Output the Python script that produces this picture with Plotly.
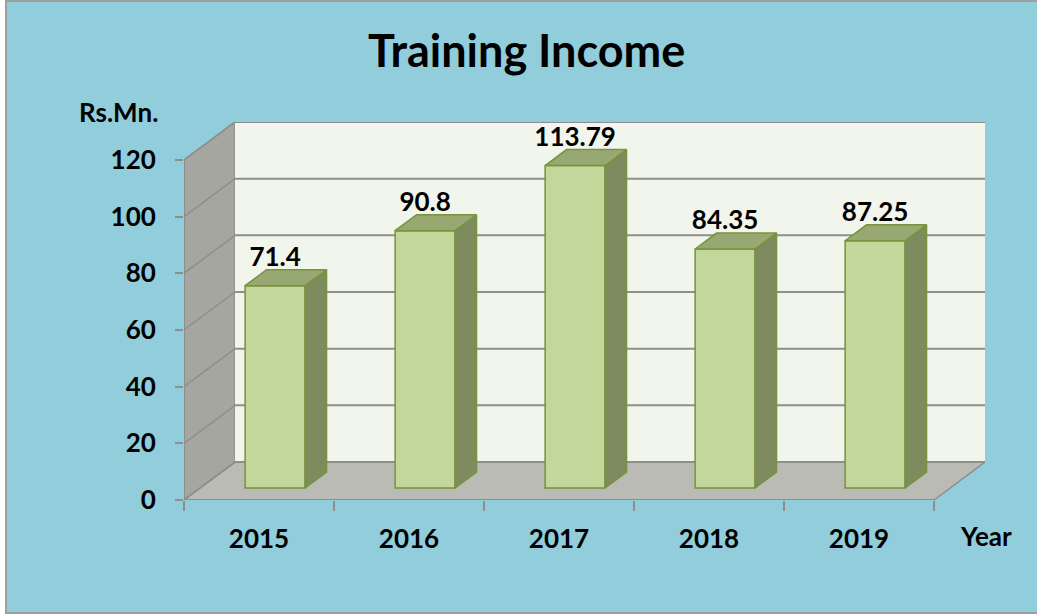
import plotly.graph_objects as go

# ---- data ----
years = ["2015", "2016", "2017", "2018", "2019"]
income = [71.4, 90.8, 113.79, 84.35, 87.25]
labels = ["71.4", "90.8", "113.79", "84.35", "87.25"]
y_ticks = [0, 20, 40, 60, 80, 100, 120]

# ---- style / geometry ----
W, H = 1037, 615
ML, MR, MT, MB = 184, 52, 122, 115
BG = "#92CDDC"
BACK = "#F2F5EC"
SIDEWALL = "#A6A6A1"
FLOOR = "#BBBBB6"
GRID = "#8E8E8E"
BAR_FRONT = "#C4D79B"
BAR_TOP = "#98A872"
BAR_SIDE = "#7E8B5F"
BAR_EDGE = "#77933C"
FONT = "Lato"

YMAX = 120.0
DX, DY = 0.34, 13.4          # depth of the 3D box in data units
F0 = 0.316                   # depth fraction of bar front face
FD = 0.42                    # bar depth fraction
BAR_W = 0.40
n = len(years)
xs = list(range(n))
x_lo, x_hi = -0.5, n - 0.5

bx = [i + F0 * DX for i in xs]
base = F0 * DY
ddx, ddy = FD * DX, FD * DY

fig = go.Figure()

# front faces
fig.add_trace(go.Bar(
    x=bx, y=income, base=base, width=BAR_W,
    marker=dict(color=BAR_FRONT, line=dict(color=BAR_EDGE, width=1.5)),
    hoverinfo="skip", showlegend=False))

# side and top faces
for xc, v in zip(bx, income):
    r = xc + BAR_W / 2
    l = xc - BAR_W / 2
    top = base + v
    fig.add_trace(go.Scatter(
        x=[r, r + ddx, r + ddx, r, r], y=[base, base + ddy, top + ddy, top, base],
        mode="lines", fill="toself", fillcolor=BAR_SIDE,
        line=dict(color=BAR_EDGE, width=1.5), hoverinfo="skip", showlegend=False))
    fig.add_trace(go.Scatter(
        x=[l, l + ddx, r + ddx, r, l], y=[top, top + ddy, top + ddy, top, top],
        mode="lines", fill="toself", fillcolor=BAR_TOP,
        line=dict(color=BAR_EDGE, width=1.5), hoverinfo="skip", showlegend=False))

# data labels
fig.add_trace(go.Scatter(
    x=bx, y=[base + v + ddy - 1.0 for v in income], text=labels,
    mode="text", textposition="top center",
    textfont=dict(family=FONT, size=26, color="black", weight="bold"),
    hoverinfo="skip", showlegend=False, cliponaxis=False))

shapes = []
pw, ph = W - ML - MR, H - MT - MB
def px_x(p):
    return (p - ML) / pw
def px_y(p):
    return (H - MB - p) / ph
# chart border / background
shapes.append(dict(type="rect", xref="paper", yref="paper",
                   x0=px_x(6), x1=px_x(W + 10), y0=px_y(613), y1=px_y(1),
                   fillcolor=BG, line=dict(color="#9E9E9E", width=2), layer="below"))
# side wall
shapes.append(dict(type="path", xref="x", yref="y", layer="below",
                   path=f"M {x_lo} 0 L {x_lo+DX} {DY} L {x_lo+DX} {DY+YMAX} L {x_lo} {YMAX} Z",
                   fillcolor=SIDEWALL, line=dict(color=GRID, width=1.5)))
# floor
shapes.append(dict(type="path", xref="x", yref="y", layer="below",
                   path=f"M {x_lo} 0 L {x_hi} 0 L {x_hi+DX} {DY} L {x_lo+DX} {DY} Z",
                   fillcolor=FLOOR, line=dict(color=GRID, width=1.5)))
# back wall
shapes.append(dict(type="rect", xref="x", yref="y", layer="below",
                   x0=x_lo + DX, x1=x_hi + DX, y0=DY, y1=DY + YMAX,
                   fillcolor=BACK, line=dict(width=0)))
# gridlines
for v in y_ticks:
    shapes.append(dict(type="line", xref="x", yref="y", layer="below",
                       x0=x_lo + DX, x1=x_hi + DX, y0=DY + v, y1=DY + v,
                       line=dict(color=GRID, width=2)))
    shapes.append(dict(type="line", xref="x", yref="y", layer="below",
                       x0=x_lo, x1=x_lo + DX, y0=v, y1=DY + v,
                       line=dict(color=GRID, width=1.5)))
# front axis lines
shapes.append(dict(type="line", xref="x", yref="y", layer="below",
                   x0=x_lo, x1=x_lo, y0=0, y1=YMAX, line=dict(color=GRID, width=2)))
shapes.append(dict(type="line", xref="x", yref="y", layer="below",
                   x0=x_lo, x1=x_hi, y0=0, y1=0, line=dict(color=GRID, width=2)))

annotations = [
    dict(text="Training Income", xref="paper", yref="paper",
         x=px_x(526), y=px_y(50), xanchor="center", yanchor="middle", showarrow=False,
         font=dict(family=FONT, size=45, color="black", weight="bold")),
    dict(text="Rs.Mn.", xref="paper", yref="paper",
         x=px_x(118), y=px_y(112), xanchor="center", yanchor="middle", showarrow=False,
         font=dict(family=FONT, size=26, color="black", weight="bold")),
    dict(text="Year", xref="paper", yref="paper",
         x=px_x(986), y=px_y(536), xanchor="center", yanchor="middle", showarrow=False,
         font=dict(family=FONT, size=26, color="black", weight="bold")),
]

fig.update_layout(
    width=W, height=H,
    margin=dict(l=ML, r=MR, t=MT, b=MB, pad=0),
    paper_bgcolor="white", plot_bgcolor="rgba(0,0,0,0)",
    shapes=shapes, annotations=annotations, showlegend=False,
    xaxis=dict(range=[x_lo, x_hi + DX], tickvals=xs, ticktext=years,
               ticks="", showgrid=False, zeroline=False, showline=False,
               tickfont=dict(family=FONT, size=26, color="black", weight="bold"),
               ticklabelstandoff=21,
               minor=dict(tickvals=[i - 0.5 for i in range(n + 1)], ticks="outside",
                          ticklen=10, tickwidth=2, tickcolor=GRID, showgrid=False),
               fixedrange=True),
    yaxis=dict(range=[0, YMAX + DY], tickvals=y_ticks, ticks="outside", ticklen=8,
               tickwidth=2, tickcolor=GRID, showgrid=False, zeroline=False, showline=False,
               tickfont=dict(family=FONT, size=26, color="black", weight="bold"),
               ticklabelstandoff=14, fixedrange=True),
)

fig.write_html("out.html", config={"displayModeBar": False},
               post_script="document.body.style.margin='0';document.body.style.overflow='hidden';")
